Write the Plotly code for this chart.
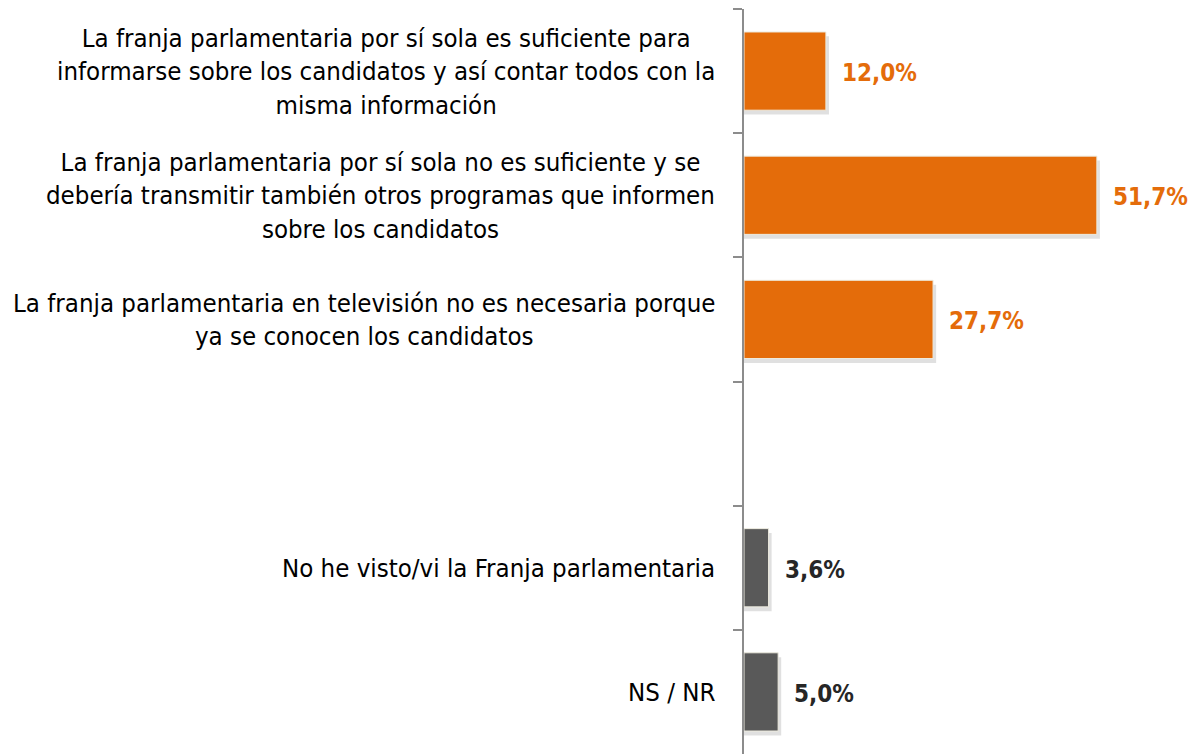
import plotly.graph_objects as go

# categories top to bottom (the empty one is the gap in the chart)
categories = [
    "La franja parlamentaria por sí sola es suficiente para<br>informarse sobre los candidatos y así contar todos con la<br>misma información",
    "La franja parlamentaria por sí sola no es suficiente y se<br>debería transmitir también otros programas que informen<br>sobre los candidatos",
    "La franja parlamentaria en televisión no es necesaria porque<br>ya se conocen los candidatos",
    " ",
    "No he visto/vi la Franja parlamentaria",
    "NS / NR",
]
values = [12.0, 51.7, 27.7, None, 3.6, 5.0]
ORANGE = "#E46C0A"
GRAY = "#595959"
bar_colors = [ORANGE, ORANGE, ORANGE, GRAY, GRAY, GRAY]
label_colors = [ORANGE, ORANGE, ORANGE, "#262626", "#262626", "#262626"]

FONT = "Liberation Sans Narrow, Arial Narrow, DejaVu Sans Condensed, sans-serif"
BAR_W = 0.63

fig = go.Figure()

# soft shadow behind the bars
fig.add_trace(go.Bar(
    y=categories, x=[v + 0.45 if v is not None else None for v in values],
    orientation="h", width=BAR_W, offset=-BAR_W / 2 + 0.035,
    marker=dict(color="rgba(0,0,0,0.12)", line=dict(width=0)),
    hoverinfo="skip", showlegend=False,
))

fig.add_trace(go.Bar(
    y=categories, x=values, orientation="h", width=BAR_W, offset=-BAR_W / 2,
    marker=dict(color=bar_colors, line=dict(color="#EDEBDF", width=1)),
    showlegend=False,
))

# category labels (centered multi-line text, right edge near the axis)
for cat in categories:
    if cat.strip() == "":
        continue
    fig.add_annotation(
        x=0, xref="paper", y=cat, yref="y", text=cat,
        xanchor="right", yanchor="middle", align="center", xshift=-27,
        showarrow=False, font=dict(family=FONT, size=25.6, color="#000000"),
    )

# value labels
for cat, v, c in zip(categories, values, label_colors):
    if v is None:
        continue
    fig.add_annotation(
        x=v, y=cat, text=f"{v:.1f}%".replace(".", ","),
        xanchor="left", yanchor="middle", xshift=14, yshift=-2,
        showarrow=False, font=dict(family=FONT, size=24, color=c, weight="bold"),
    )

fig.update_layout(
    width=1189, height=754,
    margin=dict(l=744, r=0, t=9, b=0),
    plot_bgcolor="white", paper_bgcolor="white",
    barmode="overlay",
    xaxis=dict(range=[0, 65.2], visible=False, fixedrange=True),
    yaxis=dict(
        categoryorder="array", categoryarray=categories,
        autorange="reversed", showticklabels=False, fixedrange=True,
        showline=True, linecolor="#8C8C8C", linewidth=2,
        ticks="outside", tickson="boundaries", ticklen=9,
        tickcolor="#8C8C8C", tickwidth=2, showgrid=False,
    ),
)

# drop the browser's default body margin so the figure sits at the top-left corner
fig.write_html("out.html", config={"displayModeBar": False},
               post_script="document.body.style.margin='0';")
